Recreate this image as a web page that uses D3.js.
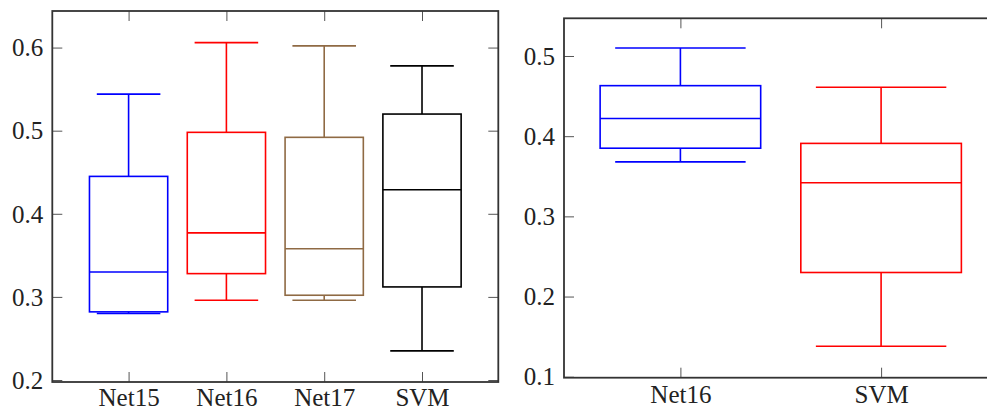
<!DOCTYPE html>
<html>
<head>
<meta charset="utf-8">
<script src="https://cdn.jsdelivr.net/npm/d3@7"></script>
<style>
  body { margin: 0; background: #fff; }
  svg { display: block; }
  svg text { font-family: "Liberation Serif" !important; }
</style>
</head>
<body>
<div id="chart"></div>
<script>
// left panel
const leftCats = ["Net15", "Net16", "Net17", "SVM"];
const leftLower = [0.280, 0.296, 0.296, 0.235];
const leftQ1 = [0.282, 0.328, 0.302, 0.312];
const leftMedian = [0.330, 0.377, 0.358, 0.429];
const leftQ3 = [0.445, 0.498, 0.492, 0.520];
const leftUpper = [0.544, 0.606, 0.602, 0.578];
const leftTicks = [0.2, 0.3, 0.4, 0.5, 0.6];

// right panel
const rightCats = ["Net16", "SVM"];
const rightLower = [0.368, 0.138];
const rightQ1 = [0.385, 0.230];
const rightMedian = [0.422, 0.342];
const rightQ3 = [0.463, 0.391];
const rightUpper = [0.510, 0.461];
const rightTicks = [0.1, 0.2, 0.3, 0.4, 0.5];

const leftColors = ["#0000ff", "#ff0000", "#8f6a44", "#000000"];
const rightColors = ["#0000ff", "#ff0000"];

var svg = d3.select("#chart").append("svg")
    .attr("width", 987)
    .attr("height", 410)
    .attr("font-family", "Liberation Serif");

function drawPanel(opt) {
    let x = d3.scaleLinear().domain(opt.xDomain).range([opt.left, opt.right]);
    let y = d3.scaleLinear().domain(opt.yDomain).range([opt.bottom, opt.top]);
    let idx = opt.cats.map((d, i) => i + 1);
    let g = svg.append("g");

    // inward ticks on all four sides
    let tickStyle = sel => {
        sel.attr("font-family", "Liberation Serif").attr("font-size", 25);
        sel.select(".domain").remove();
        sel.selectAll(".tick line").attr("stroke", "#555").attr("stroke-width", 1);
        sel.selectAll("text")
            .attr("fill", "#222")
            .attr("font-family", "Liberation Serif")
            .style("font-family", "Liberation Serif")
            .style("font-size", "25px");
    };

    g.append("g")
        .attr("transform", "translate(" + opt.left + ",0)")
        .call(d3.axisLeft(y).tickValues(opt.ticks).tickSize(-10).tickPadding(9).tickFormat(d3.format(".1f")))
        .call(tickStyle)
        .selectAll("text").attr("dy", "0.33em");

    g.append("g")
        .attr("transform", "translate(" + opt.right + ",0)")
        .call(d3.axisRight(y).tickValues(opt.ticks).tickSize(-10).tickFormat(""))
        .call(tickStyle);

    g.append("g")
        .attr("transform", "translate(0," + opt.bottom + ")")
        .call(d3.axisBottom(x).tickValues(idx).tickSize(-10).tickPadding(opt.labelPad).tickFormat((d, i) => opt.cats[i]))
        .call(tickStyle);

    g.append("g")
        .attr("transform", "translate(0," + opt.top + ")")
        .call(d3.axisTop(x).tickValues(idx).tickSize(-10).tickFormat(""))
        .call(tickStyle);

    // boxes
    let boxW = 0.4, capW = 0.325;
    opt.cats.forEach((c, i) => {
        let cx = i + 1;
        let col = opt.colors[i];
        let b = g.append("g")
            .attr("fill", "none")
            .attr("stroke", col)
            .attr("stroke-width", 1.6);
        // whiskers
        b.append("line")
            .attr("x1", x(cx)).attr("x2", x(cx))
            .attr("y1", y(opt.q3[i])).attr("y2", y(opt.upper[i]));
        b.append("line")
            .attr("x1", x(cx)).attr("x2", x(cx))
            .attr("y1", y(opt.q1[i])).attr("y2", y(opt.lower[i]));
        b.append("line")
            .attr("x1", x(cx - capW)).attr("x2", x(cx + capW))
            .attr("y1", y(opt.upper[i])).attr("y2", y(opt.upper[i]));
        b.append("line")
            .attr("x1", x(cx - capW)).attr("x2", x(cx + capW))
            .attr("y1", y(opt.lower[i])).attr("y2", y(opt.lower[i]));
        // box
        b.append("rect")
            .attr("x", x(cx - boxW))
            .attr("y", y(opt.q3[i]))
            .attr("width", x(cx + boxW) - x(cx - boxW))
            .attr("height", y(opt.q1[i]) - y(opt.q3[i]))
            .attr("fill", "none");
        b.append("line")
            .attr("x1", x(cx - boxW)).attr("x2", x(cx + boxW))
            .attr("y1", y(opt.median[i])).attr("y2", y(opt.median[i]));
    });

    // frame
    g.append("rect")
        .attr("x", opt.left)
        .attr("y", opt.top)
        .attr("width", opt.right - opt.left)
        .attr("height", opt.bottom - opt.top)
        .attr("fill", "none")
        .attr("stroke", "#333")
        .attr("stroke-width", 1.8);
}

drawPanel({
    cats: leftCats, lower: leftLower, q1: leftQ1, median: leftMedian, q3: leftQ3, upper: leftUpper,
    ticks: leftTicks, colors: leftColors, labelPad: 6,
    xDomain: [0.22, 4.78], yDomain: [0.1976, 0.644],
    left: 52.3, right: 498.3, top: 11, bottom: 382
});

drawPanel({
    cats: rightCats, lower: rightLower, q1: rightQ1, median: rightMedian, q3: rightQ3, upper: rightUpper,
    ticks: rightTicks, colors: rightColors, labelPad: 8,
    xDomain: [0.42, 2.58], yDomain: [0.0988, 0.547],
    left: 564, right: 997.5, top: 18.3, bottom: 377.7
});
</script>
</body>
</html>
